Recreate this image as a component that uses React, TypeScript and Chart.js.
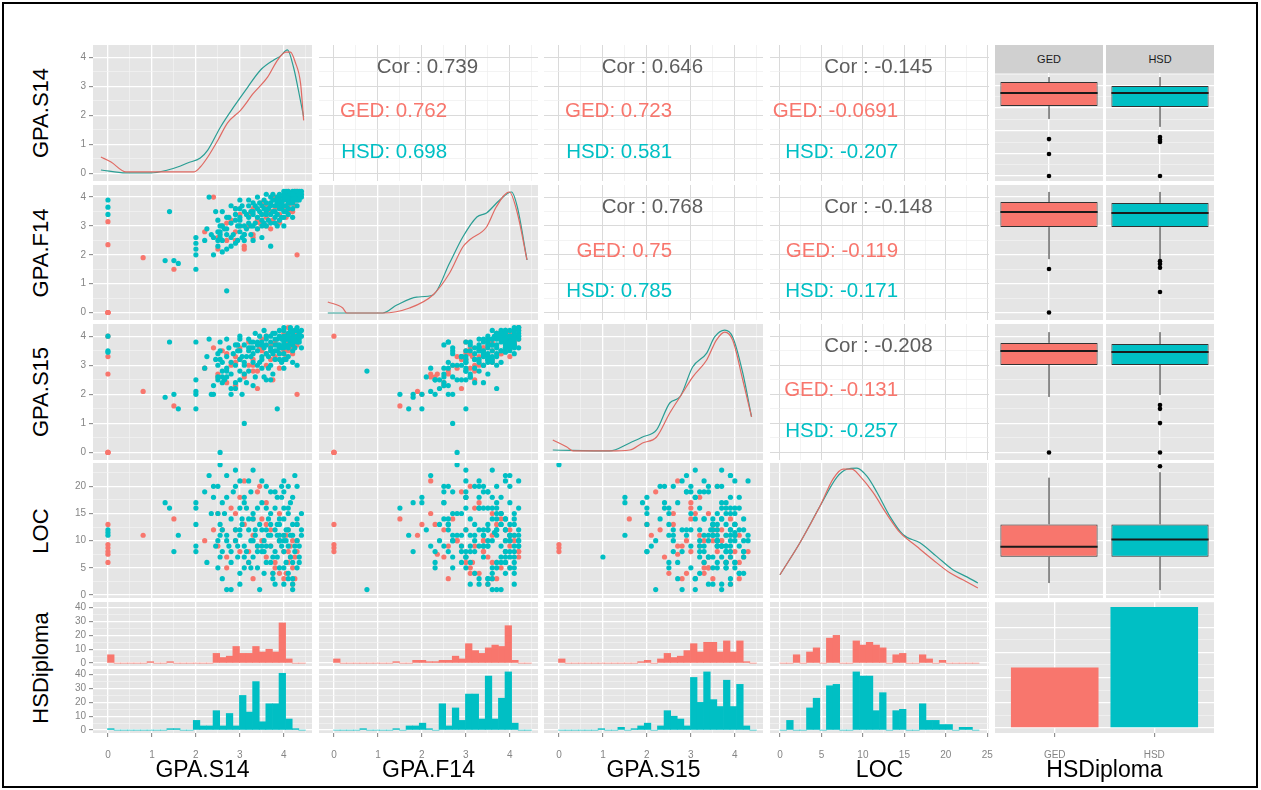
import React, { useEffect, useRef } from 'react';
import { Chart, registerables } from 'chart.js';

Chart.register(...registerables);

const FONT = '"Liberation Sans", Arial, Helvetica, sans-serif';
Chart.defaults.font.family = FONT;

// ---------------- data ----------------
const VARS = ['GPA.S14', 'GPA.F14', 'GPA.S15', 'LOC', 'HSDiploma'];
const GROUPS = ['GED', 'HSD'];
const GROUP_FILL = ['#F8766D', '#00BFC4'];
const GROUP_LINE = ['#E06A63', '#2A9E94'];

// students, GED group
const GED_S14 = [0, 0, 0, 0, 0, 0, 0.8, 1.5, 2.5, 2.6, 2.7, 2.8, 2.9, 3.0, 3.1, 3.2, 3.3, 3.4, 3.5, 3.6, 3.7, 3.8, 3.9, 4.0, 4.0, 4.05, 4.1, 4.15, 4.2, 4.25, 4.3, 3.4, 2.9, 3.9, 4.3, 3.1, 3.6, 2.4, 4.1, 3.75, 4.2, 3.3,
  2.2, 2.5, 2.7, 2.9, 3.0, 3.2, 3.3, 3.5, 3.6, 3.7, 3.8, 3.9, 4.0, 4.05, 4.1, 4.15, 4.2, 4.25, 4.3, 3.45];
const GED_F14 = [0, 0, 0, 0, 2.35, 3.15, 1.9, 1.5, 2.6, 3.0, 2.5, 3.2, 2.8, 3.4, 2.3, 3.0, 3.6, 3.2, 3.8, 3.0, 3.5, 4.0, 3.4, 3.9, 3.6, 4.1, 3.7, 4.0, 3.5, 4.2, 2.0, 2.9, 3.6, 3.1, 3.9, 2.2, 3.3, 4.0, 4.2, 3.2, 3.8, 2.7,
  2.8, 2.2, 3.1, 2.5, 3.0, 3.4, 2.6, 3.4, 3.7, 2.9, 3.6, 3.8, 4.0, 3.3, 3.9, 3.5, 4.1, 3.7, 4.2, 3.1];
const GED_S15 = [4.0, 0, 0, 0, 2.7, 3.3, 2.1, 1.6, 2.7, 3.5, 2.4, 3.0, 3.3, 3.6, 2.6, 3.8, 3.2, 2.8, 3.9, 3.4, 3.7, 3.3, 3.6, 4.0, 3.5, 3.8, 4.1, 3.6, 3.9, 4.2, 2.0, 2.2, 3.1, 2.9, 3.7, 2.7, 3.0, 3.6, 4.3, 2.5, 3.4, 3.0,
  2.9, 2.6, 3.4, 2.3, 3.2, 3.0, 2.8, 3.5, 4.0, 3.2, 3.8, 3.4, 4.1, 3.3, 3.5, 3.9, 3.7, 4.1, 3.9, 3.6];
const GED_LOC = [13, 9.3, 8.7, 8, 7.5, 6, 11, 14, 9, 12, 7, 16, 10, 8, 13, 6, 11, 9, 14, 7, 12, 5, 10, 8, 3, 11, 6, 9, 2, 7, 13, 19, 15, 4, 10, 21, 17, 12, 8, 4, 5, 14,
  10, 15, 5, 12, 18, 8, 3, 10, 13, 9, 6, 15, 11, 4, 12, 7, 10, 3, 8, 20];

// students, HSD group
const HSD_S14 = [0, 0, 0, 1.4, 1.3, 1.6, 1.5, 2.0, 2.0, 2.0, 2.0, 2.3, 2.7, 2.55, 3.1, 3.85,
  2.5, 2.5, 2.5, 2.5, 2.55, 2.6, 2.6, 2.7, 2.7, 2.75, 2.8, 2.8, 2.85, 2.9, 2.9, 2.95, 3.0, 3.0, 3.0, 3.05,
  3.1, 3.1, 3.15, 3.2, 3.2, 3.25, 3.3, 3.3, 3.35, 3.4, 3.4, 3.45, 3.5, 3.5, 3.5, 3.55, 3.6, 3.6, 3.65, 3.7,
  3.7, 3.75, 3.8, 3.8, 3.8, 3.85, 3.9, 3.9, 3.9, 3.95, 4.0, 4.0, 4.0, 4.0, 4.0, 4.05, 4.05, 4.1, 4.1, 4.1,
  4.15, 4.15, 4.2, 4.2, 4.2, 4.25, 4.25, 4.3, 4.3, 4.35, 4.4, 4.4, 2.6, 3.3, 3.6, 4.2, 3.0, 2.8,
  2.4, 2.4, 2.9, 3.7, 4.3, 3.3, 3.5, 3.7, 3.9, 4.0, 4.1, 4.2, 3.6, 3.8, 3.2,
  3.4, 3.0, 2.7, 3.1, 4.3, 4.35, 4.0, 3.75, 2.55, 3.95, 3.55, 4.1, 3.25, 3.85, 2.65,
  2.0, 2.2, 2.25, 2.35, 2.45, 2.6, 2.7, 2.8, 2.9, 3.0, 3.05, 3.1, 3.2, 3.3, 3.35, 3.4, 3.5, 3.55, 3.6, 3.65,
  3.7, 3.75, 3.8, 3.85, 3.9, 3.95, 4.0, 4.05, 4.1, 4.1, 4.15, 4.2, 4.25, 4.3, 4.35, 4.4, 3.45, 2.95, 3.15, 4.0,
  3.25, 3.7, 4.2, 2.55, 3.9];
const HSD_F14 = [3.4, 3.65, 3.9, 3.5, 1.8, 1.7, 1.8, 2.0, 1.5, 2.6, 2.2, 4.0, 0.75, 2.8, 2.7, 3.0,
  2.5, 2.8, 3.2, 2.3, 2.6, 3.0, 2.5, 2.9, 2.2, 3.3, 2.6, 3.1, 2.7, 3.4, 2.4, 3.0, 3.6, 2.8, 3.2, 2.6,
  3.5, 3.0, 2.9, 3.7, 3.3, 2.7, 3.4, 3.8, 3.1, 3.6, 2.9, 3.5, 3.7, 3.2, 2.6, 3.9, 3.4, 3.8, 3.6, 3.1,
  4.0, 3.5, 3.9, 3.3, 3.7, 4.0, 3.6, 4.1, 3.2, 3.8, 4.0, 3.5, 3.9, 4.1, 3.0, 3.7, 4.2, 3.9, 4.1, 3.4,
  4.0, 3.8, 4.2, 3.6, 4.0, 4.1, 3.9, 4.2, 4.0, 4.2, 4.2, 4.1, 3.5, 2.5, 3.0, 3.3, 3.9, 3.7,
  2.0, 2.6, 3.6, 2.3, 3.7, 3.5, 3.4, 3.8, 3.7, 4.0, 3.8, 3.9, 3.5, 3.5, 3.1,
  3.3, 3.0, 2.7, 2.7, 4.1, 3.9, 3.3, 3.9, 3.0, 3.6, 3.1, 4.0, 3.5, 3.4, 2.9,
  2.4, 2.5, 2.9, 2.7, 3.5, 2.1, 3.3, 2.3, 3.2, 3.3, 3.7, 2.5, 3.9, 3.0, 3.7, 4.0, 3.0, 3.6, 4.1, 3.2,
  3.7, 4.1, 3.1, 3.8, 4.0, 3.3, 3.7, 3.5, 4.2, 3.6, 4.1, 3.8, 4.2, 3.9, 4.1, 4.0, 3.8, 2.5, 3.4, 4.2,
  3.0, 3.4, 4.1, 2.7, 3.9];
const HSD_S15 = [3.5, 4.0, 3.45, 3.8, 1.9, 1.5, 2.0, 1.5, 2.0, 3.8, 2.1, 3.9, 2.8, 0, 1.0, 1.5,
  2.6, 3.0, 3.4, 2.5, 3.8, 2.8, 2.4, 3.3, 2.9, 3.6, 3.1, 2.7, 3.4, 3.0, 2.2, 3.5, 3.9, 2.5, 3.2, 2.0,
  3.7, 3.1, 3.3, 3.9, 2.8, 3.6, 3.4, 3.8, 2.6, 3.5, 3.0, 4.0, 3.7, 3.2, 2.9, 3.6, 3.4, 4.0, 3.3, 3.8,
  3.6, 2.7, 3.9, 3.5, 4.1, 3.7, 3.2, 4.0, 3.6, 3.9, 3.8, 3.4, 4.2, 3.7, 2.9, 4.0, 3.9, 3.6, 4.1, 3.3,
  3.8, 4.2, 4.0, 3.7, 3.5, 4.2, 3.9, 4.3, 3.8, 4.1, 4.2, 3.6, 3.1, 2.3, 2.5, 3.1, 4.0, 2.2,
  2.0, 2.3, 3.7, 2.5, 3.0, 3.6, 3.8, 3.5, 3.4, 4.0, 3.9, 3.8, 3.9, 3.2, 3.5,
  3.7, 2.8, 2.6, 3.0, 4.0, 3.9, 3.2, 4.1, 3.2, 3.1, 2.6, 3.7, 3.3, 3.9, 2.5,
  2.5, 2.9, 3.3, 2.0, 3.2, 2.6, 3.9, 2.0, 2.4, 3.5, 3.3, 2.7, 3.6, 3.1, 4.1, 3.8, 3.3, 4.2, 3.7, 2.9,
  4.0, 3.4, 3.7, 3.5, 4.2, 3.6, 3.6, 3.2, 4.0, 3.9, 4.3, 4.1, 3.6, 4.2, 3.8, 4.0, 3.1, 3.7, 2.4, 4.3,
  3.8, 3.0, 3.9, 3.5, 3.7];
const HSD_LOC = [11, 11.5, 12, 16, 17, 11, 8, 17, 16, 8, 9, 22, 1, 24, 7, 18,
  20, 15, 10, 5, 13, 8, 17, 11, 22, 9, 14, 6, 19, 12, 10, 7, 16, 11, 4, 13,
  9, 18, 8, 12, 21, 10, 7, 15, 11, 5, 9, 13, 17, 8, 12, 10, 20, 6, 14, 9,
  11, 3, 8, 12, 16, 7, 10, 5, 13, 9, 11, 2, 8, 14, 19, 6, 10, 12, 4, 9,
  17, 7, 11, 1, 13, 8, 22, 10, 5, 9, 12, 15, 3, 14, 16, 3, 21, 1,
  18, 20, 23, 6, 20, 10, 9, 13, 11, 10, 15, 6, 12, 19, 14,
  16, 12, 10, 5, 13, 7, 16, 4, 7, 18, 8, 20, 19, 11, 15,
  13, 19, 6, 15, 9, 12, 18, 8, 20, 2, 14, 17, 6, 23, 12, 8, 21, 4, 9, 11,
  15, 7, 2, 13, 10, 20, 5, 12, 16, 3, 11, 18, 9, 14, 6, 11, 1, 9, 16, 21,
  5, 19, 2, 11, 14];

// correlation panels (row, col) and texts
const COR_PAIRS = [[0, 1], [0, 2], [0, 3], [1, 2], [1, 3], [2, 3]];
const COR_ALL = ['0.739', '0.646', '-0.145', '0.768', '-0.148', '-0.208'];
const COR_GED = ['0.762', '0.723', '-0.0691', '0.75', '-0.119', '-0.131'];
const COR_HSD = ['0.698', '0.581', '-0.207', '0.785', '-0.171', '-0.257'];

// density curves (relative height)
const DENS_S14_GED_X = [-0.16, 0.07, 0.41, 0.97, 1.54, 1.95, 2.1, 2.27, 2.5, 2.72, 3.02, 3.31, 3.63, 3.86, 4.04, 4.15, 4.26, 4.38, 4.45];
const DENS_S14_GED_Y = [0.144, 0.104, 0.023, 0.023, 0.023, 0.023, 0.063, 0.144, 0.28, 0.42, 0.524, 0.66, 0.79, 0.93, 0.993, 0.993, 0.91, 0.74, 0.44];
const DENS_S14_HSD_X = [-0.16, 0.41, 0.97, 1.36, 1.65, 1.81, 2.1, 2.27, 2.56, 2.86, 3.18, 3.47, 3.77, 3.92, 4.08, 4.22, 4.33, 4.45];
const DENS_S14_HSD_Y = [0.039, 0.015, 0.015, 0.039, 0.071, 0.096, 0.136, 0.2, 0.387, 0.549, 0.71, 0.848, 0.929, 0.96, 1.01, 0.87, 0.686, 0.468];
const DENS_F14_GED_X = [-0.14, 0.2, 0.29, 1.11, 1.72, 2.25, 2.63, 2.93, 3.08, 3.47, 3.69, 3.99, 4.17, 4.39];
const DENS_F14_GED_Y = [0.097, 0.048, 0.007, 0.007, 0.048, 0.154, 0.333, 0.545, 0.602, 0.708, 0.871, 0.993, 0.822, 0.439];
const DENS_F14_HSD_X = [-0.14, 1.11, 1.43, 1.88, 2.25, 2.63, 2.93, 3.25, 3.47, 3.77, 4.04, 4.17, 4.39];
const DENS_F14_HSD_Y = [0.007, 0.007, 0.072, 0.137, 0.154, 0.414, 0.626, 0.789, 0.822, 0.928, 0.993, 0.871, 0.439];
const DENS_S15_GED_X = [-0.14, 0.18, 0.32, 1.15, 1.61, 1.9, 2.22, 2.52, 2.81, 3.04, 3.36, 3.58, 3.77, 3.95, 4.18, 4.38];
const DENS_S15_GED_Y = [0.112, 0.055, 0.023, 0.023, 0.031, 0.088, 0.136, 0.33, 0.492, 0.621, 0.759, 0.92, 0.985, 0.92, 0.597, 0.298];
const DENS_S15_HSD_X = [-0.14, 1.15, 1.61, 1.9, 2.22, 2.52, 2.75, 3.04, 3.36, 3.54, 3.77, 3.95, 4.18, 4.38];
const DENS_S15_HSD_Y = [0.031, 0.023, 0.088, 0.136, 0.193, 0.411, 0.46, 0.702, 0.815, 0.945, 1.0, 0.945, 0.654, 0.298];
const DENS_LOC_GED_X = [0, 2.41, 4.82, 6.39, 7.59, 8.67, 9.64, 11.2, 12.9, 14.46, 16.5, 18.43, 20.48, 22.05, 23.86];
const DENS_LOC_GED_Y = [0.139, 0.4, 0.697, 0.919, 1.0, 1.0, 0.943, 0.812, 0.631, 0.484, 0.369, 0.262, 0.155, 0.098, 0.032];
const DENS_LOC_HSD_X = [0, 2.41, 4.82, 6.87, 8.07, 9.28, 10.48, 11.69, 13.25, 14.82, 16.87, 18.92, 20.84, 22.53, 23.86];
const DENS_LOC_HSD_Y = [0.139, 0.4, 0.697, 0.935, 1.0, 1.009, 0.943, 0.812, 0.615, 0.467, 0.4, 0.287, 0.18, 0.122, 0.073];

// histograms (30 bins each)
const BIN_START = [0.065, 0.065, 0.065, 0.4];
const BIN_WIDTH = [0.15, 0.15, 0.15, 0.8];
const HIST_S14_GED = [6, 0, 0, 0, 0, 0, 1, 0, 0, 1, 0, 0, 0, 0, 0, 0, 7, 4, 5, 12, 7, 7, 12, 8, 10, 8, 29, 3, 0, 0];
const HIST_S14_HSD = [1, 0, 0, 0, 0, 0, 0, 0, 0, 1, 1, 0, 0, 7, 3, 3, 14, 3, 12, 3, 25, 13, 35, 6, 19, 19, 41, 8, 1, 0];
const HIST_F14_GED = [3, 0, 0, 0, 0, 0, 0, 0, 0, 1, 0, 0, 2, 2, 1, 1, 2, 2, 5, 3, 14, 9, 7, 11, 13, 12, 27, 2, 0, 0];
const HIST_F14_HSD = [0, 0, 0, 0, 1, 0, 0, 0, 0, 1, 0, 3, 3, 5, 1, 0, 19, 3, 16, 7, 26, 26, 8, 39, 8, 23, 42, 5, 0, 0];
const HIST_S15_GED = [3, 0, 0, 0, 0, 0, 0, 0, 0, 0, 0, 0, 1, 2, 0, 3, 7, 4, 5, 9, 14, 8, 15, 15, 8, 16, 8, 16, 1, 0];
const HIST_S15_HSD = [0, 0, 0, 0, 0, 0, 1, 0, 0, 2, 0, 1, 3, 5, 0, 3, 14, 10, 8, 3, 38, 20, 42, 22, 17, 36, 17, 33, 3, 0];
const HIST_LOC_GED = [0, 0, 6, 0, 8, 11, 0, 18, 20, 0, 0, 16, 13, 15, 13, 11, 0, 6, 7, 0, 0, 6, 3, 0, 2, 0, 0, 0, 0, 0];
const HIST_LOC_HSD = [0, 7, 0, 0, 16, 23, 0, 32, 33, 0, 0, 42, 39, 39, 14, 27, 0, 14, 15, 0, 0, 19, 7, 7, 4, 4, 0, 2, 2, 0];

// boxplots: [lower whisker, q1, median, q3, upper whisker] per row variable
const BOX_GED = [[2.52, 3.09, 3.67, 4.15, 4.37], [1.85, 2.96, 3.48, 3.83, 4.18], [1.91, 3.01, 3.49, 3.77, 4.14], [2.2, 7.05, 8.9, 13.0, 21.6]];
const BOX_HSD = [[2.17, 3.05, 3.67, 3.98, 4.37], [1.85, 2.96, 3.45, 3.8, 4.18], [1.98, 3.01, 3.46, 3.73, 4.14], [0.9, 7.05, 10.2, 13.0, 22.6]];
const OUT_GED = [[1.63, 0.97, 0], [1.51, 0], [0], []];
const OUT_HSD = [[1.5, 1.6, 1.72, 0], [1.78, 1.68, 1.55, 0.71], [1.63, 1.5, 1.01, 0], [23.7]];

// counts per diploma group
const DIPLOMA_COUNTS = [120, 240];

// ---------------- layout ----------------
const COL_LEFT = [93, 319, 544, 770, 995];
const COL_W = 219;
const ROW_TOP = [45, 185, 324, 463, 602];
const ROW_H = [136, 135, 136, 135, 131];
const STRIP_H = 28;
const FACET_LEFT = [995, 1106];
const FACET_W = 108;
const SUB_TOP = [602, 669];
const SUB_H = 64;
const LEFT_W = 33;
const BOTTOM_H = 30;
const SIDE_PAD = 10;
const GREY = '#E5E5E5';

type Dom = { min: number; max: number; minor: number; major: number };
const GPA_X: Dom = { min: -0.34, max: 4.64, minor: 0.5, major: 1 };
const LOC_X: Dom = { min: -1.2, max: 25.2, minor: 2.5, major: 5 };
const GPA_Y: Dom = { min: -0.26, max: 4.42, minor: 0.5, major: 1 };
const LOC_Y: Dom = { min: -0.55, max: 24.3, minor: 2.5, major: 5 };
const BOX0_Y: Dom = { min: -0.22, max: 4.55, minor: 0.5, major: 1 };
const COUNT_Y: Dom = { min: -2.1, max: 44.1, minor: 5, major: 10 };
const FACET_X: Dom = { min: 0.4, max: 1.6, minor: 1, major: 1 };
const BAR_X: Dom = { min: 0.4, max: 2.6, minor: 1, major: 1 };
const BAR_Y: Dom = { min: -10, max: 250, minor: 25, major: 50 };
const X_DOM = [GPA_X, GPA_X, GPA_X, LOC_X];
const Y_DOM = [GPA_Y, GPA_Y, GPA_Y, LOC_Y];

const GED_VALS = [GED_S14, GED_F14, GED_S15, GED_LOC];
const HSD_VALS = [HSD_S14, HSD_F14, HSD_S15, HSD_LOC];
const DENS = [
  [[DENS_S14_GED_X, DENS_S14_GED_Y], [DENS_S14_HSD_X, DENS_S14_HSD_Y]],
  [[DENS_F14_GED_X, DENS_F14_GED_Y], [DENS_F14_HSD_X, DENS_F14_HSD_Y]],
  [[DENS_S15_GED_X, DENS_S15_GED_Y], [DENS_S15_HSD_X, DENS_S15_HSD_Y]],
  [[DENS_LOC_GED_X, DENS_LOC_GED_Y], [DENS_LOC_HSD_X, DENS_LOC_HSD_Y]],
];
const HISTS = [
  [HIST_S14_GED, HIST_S14_HSD], [HIST_F14_GED, HIST_F14_HSD],
  [HIST_S15_GED, HIST_S15_HSD], [HIST_LOC_GED, HIST_LOC_HSD],
];

// ---------------- plugins ----------------
const panelBg = {
  id: 'panelBg',
  beforeDraw(chart: any, _a: any, opts: any) {
    if (!opts || !opts.color) return;
    const { ctx, chartArea: a } = chart;
    ctx.save();
    ctx.fillStyle = opts.color;
    ctx.fillRect(a.left, a.top, a.right - a.left, a.bottom - a.top);
    ctx.restore();
  },
};
const corText = {
  id: 'corText',
  afterDraw(chart: any, _a: any, opts: any) {
    if (!opts || !opts.items) return;
    const { ctx, chartArea: a } = chart;
    ctx.save();
    ctx.font = `${opts.size}px ${FONT}`;
    ctx.textBaseline = 'middle';
    for (const it of opts.items) {
      ctx.fillStyle = it.color;
      ctx.textAlign = it.align;
      ctx.fillText(it.text, a.left + it.fx * (a.right - a.left), a.top + it.fy * (a.bottom - a.top));
    }
    ctx.restore();
  },
};
Chart.register(panelBg as any, corText as any);

// ---------------- helpers ----------------
const isMult = (v: number, s: number) => Math.abs(v / s - Math.round(v / s)) < 1e-6;

function axis(d: Dom, pos: 'left' | 'bottom', theme: 'grey' | 'white', show: boolean, fmt?: (v: number) => string) {
  const majorC = theme === 'grey' ? '#FFFFFF' : '#DADADA';
  const minorC = theme === 'grey' ? '#F3F3F3' : '#EEEEEE';
  const kind = (c: any) => {
    const v = c && c.tick ? c.tick.value : undefined;
    if (typeof v !== 'number') return 0;
    if (isMult(v, d.major)) return 2;
    if (isMult(v, d.minor)) return 1;
    return 0;
  };
  return {
    type: 'linear',
    position: pos,
    min: d.min,
    max: d.max,
    offset: false,
    beginAtZero: false,
    border: { display: false },
    grid: {
      offset: false,
      drawTicks: show,
      tickLength: 4,
      tickWidth: 1,
      tickColor: (c: any) => (kind(c) === 2 ? '#7F7F7F' : 'rgba(0,0,0,0)'),
      color: (c: any) => ['rgba(0,0,0,0)', minorC, majorC][kind(c)],
      lineWidth: (c: any) => (kind(c) === 2 ? (theme === 'grey' ? 1.3 : 1) : 0.7),
    },
    ticks: {
      display: show,
      stepSize: d.minor,
      includeBounds: false,
      autoSkip: false,
      maxRotation: 0,
      minRotation: 0,
      padding: pos === 'left' ? 3 : 12,
      color: '#858585',
      font: { size: 10, family: FONT },
      callback: (v: any) => {
        const n = Number(v);
        if (!isMult(n, d.major)) return '';
        return fmt ? fmt(n) : String(Math.round(n * 1000) / 1000);
      },
    },
    afterFit: (s: any) => {
      if (show) {
        if (pos === 'left') s.width = LEFT_W;
        else s.height = BOTTOM_H;
      }
      s.paddingTop = 0;
      s.paddingBottom = 0;
      s.paddingLeft = 0;
      s.paddingRight = 0;
    },
  };
}

function baseOptions(bg: string | null, padL: number, padR: number, extra: any = {}) {
  return {
    responsive: false,
    maintainAspectRatio: false,
    animation: false,
    devicePixelRatio: 1,
    events: [],
    layout: { autoPadding: false, padding: { left: padL, right: padR, top: 0, bottom: 0 } },
    plugins: {
      legend: { display: false },
      tooltip: { enabled: false },
      title: { display: false },
      panelBg: { color: bg },
      ...extra,
    },
  };
}

const pairs = (xs: number[], ys: number[]) => xs.map((x, i) => ({ x, y: ys[i] }));

type Spec = { id: string; left: number; top: number; width: number; height: number; make: () => any };

function frame(id: string, left: number, top: number, w: number, h: number, showLeft: boolean, showBottom: boolean, make: (padL: number, padR: number) => any): Spec {
  const extL = showLeft ? LEFT_W : showBottom ? SIDE_PAD : 0;
  const extR = showBottom ? SIDE_PAD : 0;
  const padL = !showLeft && showBottom ? SIDE_PAD : 0;
  return {
    id,
    left: left - extL,
    top,
    width: w + extL + extR,
    height: h + (showBottom ? BOTTOM_H : 0),
    make: () => make(padL, extR),
  };
}

function buildSpecs(): Spec[] {
  const specs: Spec[] = [];
  for (let r = 0; r < 4; r++) {
    for (let c = 0; c < 4; c++) {
      const showLeft = c === 0;
      const id = `p${r}${c}`;
      if (r === c) {
        specs.push(frame(id, COL_LEFT[c], ROW_TOP[r], COL_W, ROW_H[r], showLeft, false, (pl, pr) => ({
          type: 'line',
          data: {
            datasets: [0, 1].map((g) => ({
              data: pairs(DENS[c][g][0], DENS[c][g][1]),
              yAxisID: 'yd',
              borderColor: GROUP_LINE[g],
              borderWidth: 1.2,
              pointRadius: 0,
              fill: false,
              cubicInterpolationMode: 'monotone',
            })),
          },
          options: {
            ...baseOptions(GREY, pl, pr),
            scales: {
              x: axis(X_DOM[c], 'bottom', 'grey', false),
              y: axis(Y_DOM[r], 'left', 'grey', showLeft),
              yd: { type: 'linear', display: false, min: -0.05, max: 1.05 },
            },
          },
        })));
      } else if (r < c) {
        const k = COR_PAIRS.findIndex((p) => p[0] === r && p[1] === c);
        specs.push(frame(id, COL_LEFT[c], ROW_TOP[r], COL_W, ROW_H[r], showLeft, false, (pl, pr) => ({
          type: 'scatter',
          data: { datasets: [] },
          options: {
            ...baseOptions(null, pl, pr, {
              corText: {
                size: 20.5,
                items: [
                  { text: `Cor : ${COR_ALL[k]}`, color: '#5E5E5E', fx: 0.495, fy: 0.165, align: 'center' },
                  { text: `${GROUPS[0]}: ${COR_GED[k]}`, color: GROUP_FILL[0], fx: 0.585, fy: 0.49, align: 'right' },
                  { text: `${GROUPS[1]}: ${COR_HSD[k]}`, color: GROUP_FILL[1], fx: 0.585, fy: 0.79, align: 'right' },
                ],
              },
            }),
            scales: {
              x: axis(X_DOM[c], 'bottom', 'white', false),
              y: axis(Y_DOM[r], 'left', 'white', false),
            },
          },
        })));
      } else {
        specs.push(frame(id, COL_LEFT[c], ROW_TOP[r], COL_W, ROW_H[r], showLeft, false, (pl, pr) => ({
          type: 'scatter',
          data: {
            datasets: [
              { data: pairs(GED_VALS[c], GED_VALS[r]), backgroundColor: GROUP_FILL[0], pointRadius: 2.6, borderWidth: 0, order: 2 },
              { data: pairs(HSD_VALS[c], HSD_VALS[r]), backgroundColor: GROUP_FILL[1], pointRadius: 2.6, borderWidth: 0, order: 1 },
            ],
          },
          options: {
            ...baseOptions(GREY, pl, pr),
            scales: {
              x: axis(X_DOM[c], 'bottom', 'grey', false),
              y: axis(Y_DOM[r], 'left', 'grey', showLeft),
            },
          },
        })));
      }
    }
    // boxplot facets in the last column
    for (let g = 0; g < 2; g++) {
      const top = r === 0 ? ROW_TOP[0] + STRIP_H : ROW_TOP[r];
      const h = r === 0 ? ROW_H[0] - STRIP_H : ROW_H[r];
      const st = g === 0 ? BOX_GED[r] : BOX_HSD[r];
      const outs = g === 0 ? OUT_GED[r] : OUT_HSD[r];
      const boxFrac = 0.9;
      const half = (boxFrac * (FACET_X.max - FACET_X.min)) / 2;
      specs.push(frame(`b${r}${g}`, FACET_LEFT[g], top, FACET_W, h, false, false, (pl, pr) => ({
        type: 'bar',
        data: {
          datasets: [
            { type: 'line', data: [{ x: 1, y: st[0] }, { x: 1, y: st[1] }], borderColor: '#222222', borderWidth: 1, pointRadius: 0, order: 5 },
            { type: 'line', data: [{ x: 1, y: st[3] }, { x: 1, y: st[4] }], borderColor: '#222222', borderWidth: 1, pointRadius: 0, order: 5 },
            { type: 'bar', data: [{ x: 1, y: [st[1], st[3]] }], backgroundColor: GROUP_FILL[g], borderColor: '#333333', borderWidth: 1, borderSkipped: false, barPercentage: boxFrac, categoryPercentage: 1, order: 3 },
            { type: 'line', data: [{ x: 1 - half, y: st[2] }, { x: 1 + half, y: st[2] }], borderColor: '#1A1A1A', borderWidth: 2, pointRadius: 0, order: 2 },
            { type: 'scatter', data: outs.map((v) => ({ x: 1, y: v })), backgroundColor: '#000000', pointRadius: 2.3, borderWidth: 0, order: 1 },
          ],
        },
        options: {
          ...baseOptions(GREY, pl, pr),
          scales: {
            x: axis(FACET_X, 'bottom', 'grey', false),
            y: axis(r === 0 ? BOX0_Y : Y_DOM[r], 'left', 'grey', false),
          },
        },
      })));
    }
  }
  // histogram row
  for (let c = 0; c < 4; c++) {
    for (let g = 0; g < 2; g++) {
      const showLeft = c === 0;
      const showBottom = g === 1;
      const counts = HISTS[c][g];
      specs.push(frame(`h${c}${g}`, COL_LEFT[c], SUB_TOP[g], COL_W, SUB_H, showLeft, showBottom, (pl, pr) => ({
        type: 'bar',
        data: {
          datasets: [{
            data: counts.map((n, i) => ({ x: BIN_START[c] + i * BIN_WIDTH[c], y: n })),
            backgroundColor: GROUP_FILL[g],
            borderWidth: 0,
            barPercentage: 1,
            categoryPercentage: 1,
          }],
        },
        options: {
          ...baseOptions(GREY, pl, pr),
          scales: {
            x: axis(X_DOM[c], 'bottom', 'grey', showBottom),
            y: axis(COUNT_Y, 'left', 'grey', showLeft),
          },
        },
      })));
    }
  }
  // bar chart of the diploma groups
  specs.push(frame('bar', COL_LEFT[4], ROW_TOP[4], COL_W, ROW_H[4], false, true, (pl, pr) => ({
    type: 'bar',
    data: {
      datasets: [{
        data: DIPLOMA_COUNTS.map((n, i) => ({ x: i + 1, y: n })),
        backgroundColor: GROUP_FILL,
        borderWidth: 0,
        barPercentage: 0.88,
        categoryPercentage: 1,
      }],
    },
    options: {
      ...baseOptions(GREY, pl, pr),
      scales: {
        x: axis(BAR_X, 'bottom', 'grey', true, (v) => GROUPS[Math.round(v) - 1] ?? ''),
        y: axis(BAR_Y, 'left', 'grey', false),
      },
    },
  })));
  return specs;
}

const SPECS = buildSpecs();

function ChartCanvas({ spec }: { spec: Spec }) {
  const ref = useRef<HTMLCanvasElement | null>(null);
  useEffect(() => {
    if (!ref.current) return;
    const chart = new Chart(ref.current, spec.make());
    return () => chart.destroy();
  }, [spec]);
  return (
    <canvas
      ref={ref}
      width={spec.width}
      height={spec.height}
      style={{ position: 'absolute', left: spec.left, top: spec.top, width: spec.width, height: spec.height, display: 'block' }}
    />
  );
}

export default function App() {
  const rowCenters = ROW_TOP.map((t, i) => t + ROW_H[i] / 2);
  const colCenters = COL_LEFT.map((l) => l + COL_W / 2);
  return (
    <div style={{ position: 'absolute', left: 0, top: 0, width: 1261, height: 790, background: '#FFFFFF', overflow: 'hidden', fontFamily: FONT }}>
      {SPECS.map((s) => <ChartCanvas key={s.id} spec={s} />)}
      {GROUPS.map((g, i) => (
        <div key={g} style={{ position: 'absolute', left: FACET_LEFT[i], top: ROW_TOP[0], width: FACET_W, height: STRIP_H, background: '#D0D0D0', color: '#1A1A1A', fontSize: 11, lineHeight: `${STRIP_H}px`, textAlign: 'center' }}>{g}</div>
      ))}
      {VARS.map((v, i) => (
        <div key={`yl${v}`} style={{ position: 'absolute', left: 41, top: rowCenters[i], transform: 'translate(-50%, -50%) rotate(-90deg)', whiteSpace: 'nowrap', fontSize: 22, color: '#000000', lineHeight: 1 }}>{v}</div>
      ))}
      {VARS.map((v, i) => (
        <div key={`xl${v}`} style={{ position: 'absolute', left: colCenters[i], top: 769, transform: 'translate(-50%, -50%)', whiteSpace: 'nowrap', fontSize: 23, color: '#000000', lineHeight: 1 }}>{v}</div>
      ))}
      <div style={{ position: 'absolute', left: 2, top: 2, width: 1256, height: 786, border: '2px solid #000000', boxSizing: 'border-box', pointerEvents: 'none' }} />
    </div>
  );
}
